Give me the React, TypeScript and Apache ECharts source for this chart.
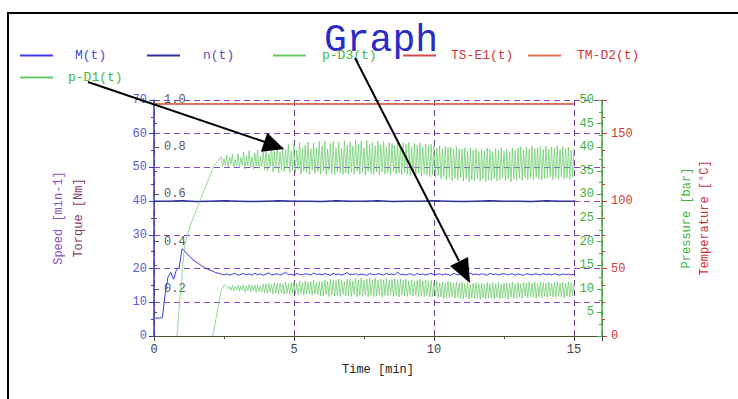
import React, { useEffect, useRef } from "react";
import * as echarts from "echarts";

const FONT = "'Liberation Mono', 'DejaVu Sans Mono', monospace";

// ---- data ----
const SERIES_NAMES = ["M(t)", "n(t)", "p-D3(t)", "TS-E1(t)", "TM-D2(t)", "p-D1(t)"];

// M(t) torque [Nm], every 0.1 min starting at t = 0
const M_T0 = 0;
const M_STEP = 0.1;
const M_VALUES = [
  0.076, 0.076, 0.076, 0.078, 0.18, 0.25, 0.27, 0.24, 0.28, 0.29,
  0.37, 0.36, 0.345, 0.335, 0.322, 0.314, 0.306, 0.298, 0.29, 0.284,
  0.279, 0.274, 0.269, 0.266, 0.262,
  0.259, 0.264, 0.258, 0.262, 0.266, 0.257, 0.261, 0.265, 0.259, 0.263,
  0.258, 0.266, 0.26, 0.263, 0.257, 0.262, 0.268, 0.259, 0.261, 0.264,
  0.258, 0.263, 0.27, 0.26, 0.262, 0.257, 0.265, 0.261, 0.259, 0.264,
  0.262, 0.258, 0.267, 0.26, 0.263, 0.259, 0.264, 0.261, 0.257, 0.266,
  0.26, 0.263, 0.258, 0.262, 0.269, 0.259, 0.261, 0.264, 0.258, 0.263,
  0.26, 0.257, 0.265, 0.261, 0.259, 0.264, 0.262, 0.258, 0.266, 0.26,
  0.263, 0.259, 0.271, 0.26, 0.262, 0.258, 0.264, 0.261, 0.257, 0.265,
  0.26, 0.263, 0.258, 0.262, 0.266, 0.259, 0.261, 0.264, 0.258, 0.263,
  0.26, 0.257, 0.265, 0.261, 0.259, 0.264, 0.262, 0.258, 0.267, 0.26,
  0.263, 0.259, 0.264, 0.261, 0.257, 0.266, 0.26, 0.263, 0.258, 0.262,
  0.265, 0.259, 0.261, 0.264, 0.258, 0.263, 0.26, 0.257, 0.264, 0.261,
  0.259, 0.263, 0.262, 0.258, 0.265, 0.26, 0.262, 0.259, 0.264, 0.261,
  0.258, 0.263, 0.26, 0.262, 0.259, 0.261,
];

// n(t) speed [min-1], every 0.5 min starting at t = 0
const N_T0 = 0;
const N_STEP = 0.5;
const N_VALUES = [
  40, 40, 40.1, 39.9, 40, 40.1, 40, 39.9, 40, 40.1,
  40, 40, 39.9, 40.1, 40, 40, 40.1, 39.9, 40, 40,
  40.1, 40, 39.9, 40, 40.1, 40, 40, 39.9, 40.1, 40, 40,
];

// p-D3(t) pressure [bar]: start-up ramp, then oscillating band every 0.05 min from t = 2.4
const PD3_RAMP = [
  [0.82, 0], [0.9, 6], [1.0, 13], [1.1, 19.5], [1.2, 21.5], [1.3, 23.5], [1.4, 25],
  [1.5, 26.5], [1.6, 28], [1.7, 29.5], [1.8, 31], [1.9, 32.5], [2.0, 34], [2.1, 35.5],
  [2.2, 36.5], [2.3, 37.2],
];
const PD3_T0 = 2.4;
const PD3_STEP = 0.05;
const PD3_BAND = [
  38.0, 35.9, 37.6, 36.2, 38.3, 35.7, 37.9, 36.4, 38.5, 35.8, 37.4, 36.0,
  38.6, 35.6, 37.8, 36.3, 39.0, 35.4, 38.2, 36.1, 39.3, 35.7, 37.9, 35.3, 38.8, 36.0, 39.4, 35.5, 38.1, 35.9, 39.1, 35.2,
  39.7, 35.0, 38.6, 35.8, 40.2, 34.8, 39.1, 35.5, 40.4, 34.6, 38.9, 35.3, 40.0, 34.9, 39.5, 35.6, 40.6, 34.7, 39.2, 35.1,
  40.8, 34.5, 39.4, 35.4, 41.0, 34.3, 39.8, 35.0, 40.5, 34.6, 41.1, 34.2, 39.6, 35.2, 40.9, 34.4, 39.9, 34.8, 41.2, 34.3,
  40.3, 34.9, 41.3, 34.2, 39.7, 35.1, 40.8, 34.4, 41.2, 34.1, 40.0, 34.8, 41.0, 34.5, 39.8, 34.2, 41.4, 34.6, 40.4, 34.3,
  41.1, 34.7, 40.2, 34.2, 41.5, 34.9, 40.6, 34.3, 41.3, 34.6, 39.9, 34.1, 41.4, 34.8, 40.7, 34.4, 41.0, 34.2, 40.3, 34.7,
  41.3, 34.1, 40.5, 34.8, 41.2, 34.3, 40.1, 34.6, 41.0, 34.2, 40.8, 34.9, 40.4, 34.3, 41.1, 34.5, 40.2, 34.1, 40.9, 34.6,
  40.6, 34.3, 41.0, 34.0, 40.1, 34.7, 40.8, 34.2, 40.4, 34.5, 40.9, 33.9, 40.0, 34.4, 40.7, 34.1, 40.3, 33.8, 40.6, 34.2,
  40.4, 33.6, 39.8, 34.0, 40.3, 33.3, 39.6, 33.8, 40.2, 33.1, 39.9, 33.6, 40.0, 32.9, 39.5, 33.4, 40.1, 33.0, 39.7, 33.5,
  39.6, 32.8, 39.9, 33.3, 39.2, 32.7, 39.8, 33.1, 39.4, 32.9, 39.7, 33.4, 39.1, 32.8, 39.6, 33.2, 39.3, 32.7, 39.8, 33.0,
  39.5, 32.9, 39.1, 33.3, 39.7, 32.8, 39.4, 33.1, 39.9, 33.5, 39.2, 32.9, 39.6, 33.3, 39.0, 32.7, 39.8, 33.2, 39.3, 33.0,
  39.8, 33.4, 40.1, 33.0, 39.5, 33.6, 40.0, 33.2, 39.6, 33.5, 40.2, 33.1, 39.7, 33.6, 39.9, 33.3, 40.1, 33.0, 39.5, 33.4,
  40.2, 33.3, 39.6, 33.7, 40.0, 33.1, 39.8, 33.6, 40.3, 33.2, 39.5, 33.8, 40.1, 33.3, 39.7, 33.5, 40.0, 33.2, 39.4, 33.6, 39.9,
];

// p-D1(t) pressure [bar]: ramp, then oscillating band every 0.05 min from t = 2.6
const PD1_RAMP = [[2.1, 0], [2.2, 3.2], [2.3, 6.5], [2.4, 9.6], [2.5, 10.9], [2.55, 10.7]];
const PD1_T0 = 2.6;
const PD1_STEP = 0.05;
const PD1_BAND = [
  10.6, 10.0, 10.5, 9.7, 10.7, 9.6, 10.5, 9.8,
  10.7, 9.5, 10.6, 9.7, 10.8, 9.4, 10.6, 9.6, 10.9, 9.3, 10.7, 9.5, 10.8, 9.2, 10.9, 9.4, 10.6, 9.3, 11.0, 9.2,
  11.0, 9.1, 11.2, 9.3, 10.9, 8.9, 11.3, 9.1, 11.1, 8.8, 11.2, 9.2, 11.0, 8.9, 11.4, 9.0, 11.1, 8.8, 11.3, 9.1,
  11.4, 8.9, 11.2, 8.7, 11.6, 9.0, 11.3, 8.6, 11.7, 8.8, 11.4, 8.9, 11.5, 8.6, 11.8, 8.9, 11.3, 8.7, 11.6, 8.5,
  11.5, 8.5, 11.9, 8.8, 11.6, 8.4, 12.0, 8.7, 11.8, 8.5, 11.7, 8.6, 12.1, 8.4, 11.8, 8.8, 11.6, 8.5, 12.0, 8.6,
  12.1, 8.4, 11.7, 8.8, 12.2, 8.3, 11.9, 8.6, 12.3, 8.4, 11.8, 8.7, 12.1, 8.3, 12.2, 8.6, 11.9, 8.4, 12.3, 8.5,
  11.8, 8.7, 12.1, 8.3, 11.9, 8.6, 12.2, 8.5, 11.8, 8.7, 12.0, 8.4, 12.2, 8.6, 11.9, 8.3, 12.1, 8.7, 11.8, 8.5,
  12.0, 8.4, 11.7, 8.8, 11.9, 8.5, 11.6, 8.6, 11.8, 8.3, 12.0, 8.5, 11.7, 8.4, 11.9, 8.6, 11.6, 8.3, 11.8, 8.4,
  11.5, 8.4, 11.7, 8.1, 11.3, 8.3, 11.5, 8.0, 11.2, 8.2, 11.6, 8.1, 11.4, 8.3, 11.2, 8.0, 11.5, 8.2, 11.3, 7.9,
  11.4, 7.9, 11.1, 8.2, 11.3, 7.8, 11.0, 8.1, 11.2, 7.9, 11.3, 8.0, 11.1, 7.8, 11.2, 8.1, 11.0, 7.9, 11.3, 8.0,
  11.0, 8.0, 11.3, 7.8, 11.1, 8.2, 11.4, 7.9, 11.0, 8.1, 11.2, 8.0, 11.3, 7.8, 11.1, 8.2, 11.4, 8.0, 11.0, 8.1,
  11.3, 8.3, 11.1, 8.0, 11.4, 8.4, 11.2, 8.1, 11.5, 8.3, 11.2, 8.2, 11.4, 8.0, 11.1, 8.3, 11.5, 8.1, 11.3, 8.4,
  11.2, 8.2, 11.4, 8.5, 11.1, 8.3, 11.3, 8.2, 11.5, 8.4, 11.2, 8.3, 11.4, 8.1, 11.2, 8.4, 11.5, 8.2, 11.3, 8.5, 11.2,
];

// temperatures [°C]
const TS_E1 = [[0, 172], [15, 172]];
const TM_D2 = [[0, 172.3], [15, 172.3]];

// axis ranges
const TIME_RANGE = [0, 16];
const SPEED_RANGE = [0, 70];
const TORQUE_RANGE = [0, 1];
const PRESSURE_RANGE = [0, 50];
const TEMP_RANGE = [0, 175];

// ---- helpers ----
const seq = (t0: number, step: number, vals: number[]) =>
  vals.map((v, i) => [Math.round((t0 + i * step) * 1000) / 1000, v]);

const LEGEND_LAYOUT = [
  { left: 20, top: 49, pad: 17, color: "#4a4ae0" },
  { left: 147, top: 49, pad: 18, color: "#6a48c8" },
  { left: 273, top: 49, pad: 11, color: "#40b840" },
  { left: 403, top: 49, pad: 10, color: "#d03a3a" },
  { left: 528, top: 49, pad: 11, color: "#cc3a3a" },
  { left: 20, top: 71, pad: 10, color: "#40b840" },
];

const GRID_DASH = [6, 4];

export default function App() {
  const ref = useRef<HTMLDivElement>(null);

  useEffect(() => {
    if (!ref.current) return;
    const chart = echarts.init(ref.current, undefined, { renderer: "svg" });

    const lbl = (color: string, extra: any = {}) => ({
      color,
      fontFamily: FONT,
      fontSize: 12,
      ...extra,
    });

    const option: any = {
      animation: false,
      backgroundColor: "#ffffff",
      textStyle: { fontFamily: FONT },
      title: {
        text: "Graph",
        left: 324,
        top: 21,
        padding: 0,
        textStyle: { fontFamily: FONT, fontSize: 38, fontWeight: "normal", color: "#2a2ac8" },
      },
      legend: SERIES_NAMES.map((name, i) => ({
        data: [name],
        left: LEGEND_LAYOUT[i].left,
        top: LEGEND_LAYOUT[i].top,
        padding: 0,
        icon: "rect",
        itemWidth: 33,
        itemHeight: 2,
        selectedMode: false,
        textStyle: {
          color: LEGEND_LAYOUT[i].color,
          fontFamily: FONT,
          fontSize: 13,
          padding: [0, 0, 0, LEGEND_LAYOUT[i].pad],
        },
      })),
      grid: { left: 154, top: 100, width: 448, height: 236, containLabel: false, outerBoundsMode: "none" },
      xAxis: {
        type: "value",
        min: TIME_RANGE[0],
        max: TIME_RANGE[1],
        interval: 5,
        name: "Time [min]",
        nameLocation: "middle",
        nameGap: 28,
        nameTextStyle: lbl("#222222"),
        axisLine: { onZero: false, lineStyle: { color: "#4a4a30", width: 1 } },
        axisTick: { show: true, length: 5, lineStyle: { color: "#4a4a4a" } },
        minorTick: { show: true, splitNumber: 2, length: 3, lineStyle: { color: "#4a4a4a" } },
        axisLabel: lbl("#404050", {
          margin: 8,
          formatter: (v: number) => (v % 5 === 0 ? String(v) : ""),
        }),
        splitLine: { show: true, lineStyle: { color: "#6a3a8a", type: GRID_DASH, width: 1 } },
      },
      yAxis: [
        {
          type: "value",
          position: "left",
          min: SPEED_RANGE[0],
          max: SPEED_RANGE[1],
          interval: 10,
          name: "Speed [min-1]",
          nameLocation: "middle",
          nameRotate: 90,
          nameGap: 89,
          nameTextStyle: lbl("#8a50c8"),
          axisLine: { show: true, lineStyle: { color: "#3a3ac0", width: 1.5 } },
          axisTick: { show: true, length: 5, lineStyle: { color: "#3a3ac0" } },
          minorTick: { show: true, splitNumber: 2, length: 3, lineStyle: { color: "#3a3ac0" } },
          axisLabel: lbl("#5a5ad0", { margin: 7 }),
          splitLine: { show: true, lineStyle: { color: "#8048d0", type: GRID_DASH, width: 1 } },
        },
        {
          type: "value",
          position: "left",
          min: TORQUE_RANGE[0],
          max: TORQUE_RANGE[1],
          interval: 0.2,
          name: "Torque [Nm]",
          nameLocation: "middle",
          nameRotate: 90,
          nameGap: 69,
          nameTextStyle: lbl("#8a3a70"),
          axisLine: { show: false },
          axisTick: { show: true, inside: true, length: 5, lineStyle: { color: "#505050" } },
          minorTick: { show: true, splitNumber: 2, length: 3, lineStyle: { color: "#505050" } },
          axisLabel: lbl("#5a5a5a", {
            inside: true,
            margin: 10,
            showMinLabel: false,
            formatter: (v: number) => v.toFixed(1),
          }),
          splitLine: { show: false },
        },
        {
          type: "value",
          position: "right",
          min: PRESSURE_RANGE[0],
          max: PRESSURE_RANGE[1],
          interval: 5,
          name: "Pressure [bar]",
          nameLocation: "middle",
          nameRotate: 90,
          nameGap: 79,
          nameTextStyle: lbl("#3cb43c"),
          axisLine: { show: true, lineStyle: { color: "#3cb43c", width: 1.5 } },
          axisTick: { show: true, inside: true, length: 5, lineStyle: { color: "#3cb43c" } },
          minorTick: { show: true, splitNumber: 2, length: 3, lineStyle: { color: "#3cb43c" } },
          axisLabel: lbl("#3cb43c", { inside: true, margin: 8, showMinLabel: false }),
          splitLine: { show: false },
        },
        {
          type: "value",
          position: "right",
          min: TEMP_RANGE[0],
          max: TEMP_RANGE[1],
          interval: 50,
          name: "Temperature [°C]",
          nameLocation: "middle",
          nameRotate: 90,
          nameGap: 97,
          nameTextStyle: lbl("#cc3040"),
          axisLine: { show: false },
          axisTick: { show: true, length: 5, lineStyle: { color: "#cc3a3a" } },
          minorTick: { show: true, splitNumber: 4, length: 3, lineStyle: { color: "#cc3a3a" } },
          axisLabel: lbl("#cc3a3a", { margin: 9, showMaxLabel: false }),
          splitLine: { show: false },
        },
      ],
      series: [
        {
          name: "TS-E1(t)",
          type: "line",
          yAxisIndex: 3,
          data: TS_E1,
          symbol: "none",
          color: "#d84848",
          lineStyle: { width: 1.5 },
        },
        {
          name: "TM-D2(t)",
          type: "line",
          yAxisIndex: 3,
          data: TM_D2,
          symbol: "none",
          color: "#e0704a",
          lineStyle: { width: 1 },
        },
        {
          name: "n(t)",
          type: "line",
          yAxisIndex: 0,
          data: seq(N_T0, N_STEP, N_VALUES),
          symbol: "none",
          color: "#30309a",
          lineStyle: { width: 1.5 },
        },
        {
          name: "M(t)",
          type: "line",
          yAxisIndex: 1,
          data: seq(M_T0, M_STEP, M_VALUES),
          symbol: "none",
          color: "#3a3aee",
          lineStyle: { width: 1 },
        },
        {
          name: "p-D3(t)",
          type: "line",
          yAxisIndex: 2,
          data: [...PD3_RAMP, ...seq(PD3_T0, PD3_STEP, PD3_BAND)],
          symbol: "none",
          color: "#66cc66",
          lineStyle: { width: 0.8, opacity: 0.9 },
        },
        {
          name: "p-D1(t)",
          type: "line",
          yAxisIndex: 2,
          data: [...PD1_RAMP, ...seq(PD1_T0, PD1_STEP, PD1_BAND)],
          symbol: "none",
          color: "#66cc66",
          lineStyle: { width: 0.8, opacity: 0.9 },
        },
      ],
      graphic: {
        elements: [
          {
            type: "rect",
            silent: true,
            z: -10,
            shape: { x: 8, y: 13, width: 760, height: 420 },
            style: { fill: "none", stroke: "#000000", lineWidth: 2 },
          },
          {
            type: "line",
            silent: true,
            z: 100,
            shape: { x1: 88, y1: 82, x2: 265, y2: 142 },
            style: { stroke: "#000000", lineWidth: 2 },
          },
          {
            type: "polygon",
            silent: true,
            z: 100,
            shape: { points: [[284, 149], [260.9, 151.7], [267.3, 132.7]] },
            style: { fill: "#000000" },
          },
          {
            type: "line",
            silent: true,
            z: 100,
            shape: { x1: 355, y1: 58, x2: 459, y2: 261 },
            style: { stroke: "#000000", lineWidth: 2 },
          },
          {
            type: "polygon",
            silent: true,
            z: 100,
            shape: { points: [[470, 283], [450, 266], [468, 257]] },
            style: { fill: "#000000" },
          },
        ],
      },
    };

    chart.setOption(option);
    return () => chart.dispose();
  }, []);

  return (
    <div
      ref={ref}
      style={{ position: "fixed", left: 0, top: 0, width: 738, height: 399, background: "#fff" }}
    />
  );
}
